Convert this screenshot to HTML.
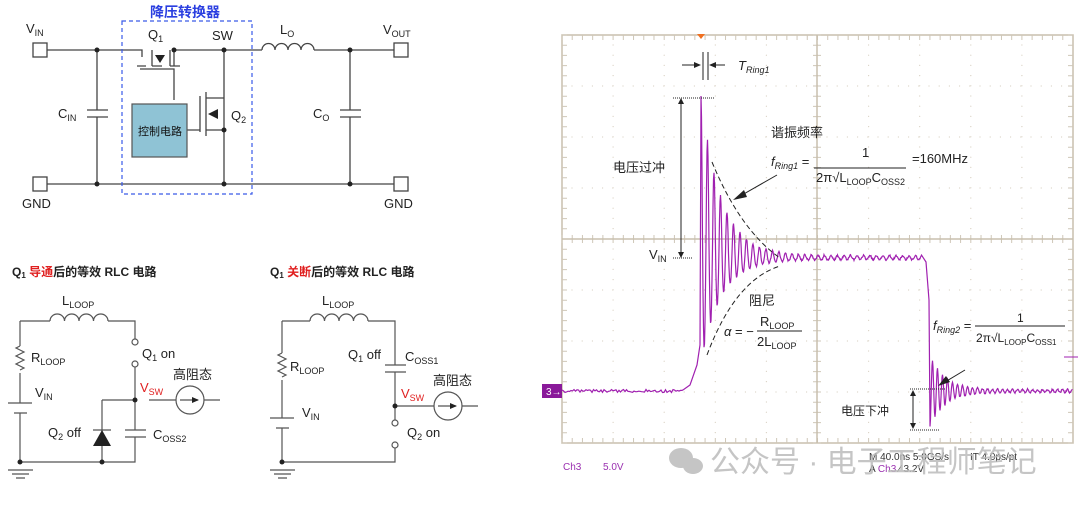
<!DOCTYPE html><html><head><meta charset="utf-8"><style>
body{margin:0;background:#fff;width:1080px;height:504px;overflow:hidden}
svg text{font-family:"Liberation Sans","Noto Sans CJK SC",sans-serif}
</style></head><body>
<svg id="s" width="1080" height="504" viewBox="0 0 1080 504" xmlns="http://www.w3.org/2000/svg" font-size="13">
<g stroke="#444" stroke-width="1.3" fill="none">
<rect x="33" y="43" width="14" height="14" fill="#fff"/><rect x="33" y="177" width="14" height="14" fill="#fff"/>
<rect x="394" y="43" width="14" height="14" fill="#fff"/><rect x="394" y="177" width="14" height="14" fill="#fff"/>
<path d="M47 50H142V57M137 66H146M140 69H174V100M152 66H162M170 66H180M174 66V50H224V50H262M314 50H394M47 184H394M97 50V110M97 117V184M87 110H108M87 117H108M350 50V110M350 117V184M340 110H361M340 117H361M224 50V98H206V92M224 98V130H206V136M206 92V136M200 96V132M200 130H187M224 130V184"/>
<path d="M262 50a6.5 6.5 0 0 1 13 0a6.5 6.5 0 0 1 13 0a6.5 6.5 0 0 1 13 0a6.5 6.5 0 0 1 13 0"/>
<path d="M152 66V50M170 66V50"/>
</g>
<polygon points="155,55 165,55 160,63" fill="#222"/><polygon points="208,114 218,109 218,119" fill="#222"/>
<rect x="122" y="21" width="130" height="173" fill="none" stroke="#3a5ae8" stroke-width="1.2" stroke-dasharray="4,3"/>
<rect x="132" y="104" width="55" height="53" fill="#8fc3d5" stroke="#555" stroke-width="1.2"/>
<g fill="#222"><circle cx="97" cy="50" r="2.5"/><circle cx="174" cy="50" r="2.5"/><circle cx="224" cy="50" r="2.5"/><circle cx="350" cy="50" r="2.5"/><circle cx="97" cy="184" r="2.5"/><circle cx="224" cy="184" r="2.5"/><circle cx="350" cy="184" r="2.5"/><circle cx="224" cy="130" r="2.5"/></g>
<text x="150" y="17" fill="#2a3ee0" font-size="14" font-weight="bold">降压转换器</text>
<text x="138" y="135" font-size="11" fill="#111">控制电路</text>
<g fill="#222"><text x="26" y="33">V<tspan font-size="9" dy="3">IN</tspan></text>
<text x="148" y="39">Q<tspan font-size="9" dy="3">1</tspan></text><text x="212" y="40">SW</text>
<text x="280" y="34">L<tspan font-size="9" dy="3">O</tspan></text><text x="383" y="34">V<tspan font-size="9" dy="3">OUT</tspan></text>
<text x="58" y="118">C<tspan font-size="9" dy="3">IN</tspan></text><text x="231" y="120">Q<tspan font-size="9" dy="3">2</tspan></text>
<text x="313" y="118">C<tspan font-size="9" dy="3">O</tspan></text>
<text x="22" y="208">GND</text><text x="384" y="208">GND</text>
<text x="12" y="276" font-weight="bold" font-size="12">Q<tspan font-size="8" dy="2">1</tspan><tspan dy="-2" fill="#e02020"> 导通</tspan>后的等效 RLC 电路</text>
<text x="270" y="276" font-weight="bold" font-size="12">Q<tspan font-size="8" dy="2">1</tspan><tspan dy="-2" fill="#e02020"> 关断</tspan>后的等效 RLC 电路</text>
<text x="62" y="305">L<tspan font-size="9" dy="3">LOOP</tspan></text><text x="322" y="305">L<tspan font-size="9" dy="3">LOOP</tspan></text>
<text x="31" y="362">R<tspan font-size="9" dy="3">LOOP</tspan></text><text x="290" y="371">R<tspan font-size="9" dy="3">LOOP</tspan></text>
<text x="35" y="397">V<tspan font-size="9" dy="3">IN</tspan></text><text x="302" y="417">V<tspan font-size="9" dy="3">IN</tspan></text>
<text x="142" y="358">Q<tspan font-size="9" dy="3">1</tspan><tspan dy="-3"> on</tspan></text>
<text x="348" y="359">Q<tspan font-size="9" dy="3">1</tspan><tspan dy="-3"> off</tspan></text>
<text x="405" y="361">C<tspan font-size="9" dy="3">OSS1</tspan></text>
<text x="153" y="439">C<tspan font-size="9" dy="3">OSS2</tspan></text>
<text x="48" y="437">Q<tspan font-size="9" dy="3">2</tspan><tspan dy="-3"> off</tspan></text>
<text x="407" y="437">Q<tspan font-size="9" dy="3">2</tspan><tspan dy="-3"> on</tspan></text>
<text x="173" y="379">高阻态</text><text x="433" y="385">高阻态</text>
<text x="140" y="392" fill="#e02020">V<tspan font-size="9" dy="3">SW</tspan></text>
<text x="401" y="398" fill="#e02020">V<tspan font-size="9" dy="3">SW</tspan></text></g>
<g stroke="#555" stroke-width="1.2" fill="none">
<path d="M20 321H50M108 321H135V339M135 367V430M135 437V462H20V452M20 321V346M20 373V403M20 413V462M102 400H135M102 400V462M149 400H176M204 400H220M125 430H146M125 437H146"/>
<path d="M50 321a7.25 7 0 0 1 14.5 0a7.25 7 0 0 1 14.5 0a7.25 7 0 0 1 14.5 0a7.25 7 0 0 1 14.5 0"/>
<path d="M20 346l-4 2l8 4l-8 4l8 4l-8 4l8 4l-4 2"/>
<path d="M8 403H32M14 413H27M8 470H33M12 474H29M16 478H25"/>
<circle cx="135" cy="342" r="3" fill="#fff"/><circle cx="135" cy="364" r="3" fill="#fff"/>
<circle cx="190" cy="400" r="14" fill="#fff"/><path d="M180 400H198"/>
<path d="M93 430H111"/>
<path d="M282 321H310M368 321H395V365M395 372V420M395 448V462H282V452M282 321V353M282 380V418M282 428V462M385 365H406M385 372H406M395 406H434M462 406H478"/>
<path d="M310 321a7.25 7 0 0 1 14.5 0a7.25 7 0 0 1 14.5 0a7.25 7 0 0 1 14.5 0a7.25 7 0 0 1 14.5 0"/>
<path d="M282 353l-4 2l8 4l-8 4l8 4l-8 4l8 4l-4 2"/>
<path d="M270 418H294M276 428H289M270 470H295M274 474H291M278 478H287"/>
<circle cx="395" cy="423" r="3" fill="#fff"/><circle cx="395" cy="445" r="3" fill="#fff"/>
<circle cx="448" cy="406" r="14" fill="#fff"/><path d="M438 406H456"/>
</g>
<g fill="#222"><polygon points="93,446 111,446 102,430"/><polygon points="192,397 199,400 192,403"/><polygon points="450,403 457,406 450,409"/>
<circle cx="135" cy="400" r="2.5"/><circle cx="20" cy="462" r="2.5"/><circle cx="102" cy="462" r="2.5"/><circle cx="395" cy="406" r="2.5"/><circle cx="282" cy="462" r="2.5"/></g>
<rect x="562" y="35" width="511" height="408" fill="none" stroke="#c8bfae" stroke-width="1.5"/>
<g id="grid" stroke="#cfc7b8" stroke-width="1"></g>
<path d="M562 239H1073M817 35V443" stroke="#c8bfae" stroke-width="1.5"/>
<polygon points="697,34 705,34 701,39" fill="#f07020"/>
<path id="wave" fill="none" stroke="#a020b0" stroke-width="1.2"/>
<path d="M712 162Q740 230 780 258M707 355Q735 280 780 266" stroke="#222" stroke-width="1" stroke-dasharray="5,3" fill="none"/>
<g stroke="#222" stroke-width="1" fill="none"><path d="M673 98H714M673 258H692M910 389H945M910 430H940" stroke-dasharray="1,1"/>
<path d="M681 102V254M913 392V427M682 65H700M712 65H725M777 175L735 199M965 370L940 385M703 52V80M708 52V80" /></g>
<g fill="#222"><polygon points="678,104 684,104 681,98"/><polygon points="678,252 684,252 681,258"/><polygon points="910,396 916,396 913,390"/><polygon points="910,423 916,423 913,429"/>
<polygon points="701,65 694,62 694,68"/><polygon points="709,65 716,62 716,68"/><polygon points="733,200 744,190 747,197"/><polygon points="938,386 946,376 950,382"/>
<text x="738" y="70" font-family="Liberation Serif" font-style="italic">T<tspan font-size="9" dy="3">Ring1</tspan></text>
<text x="613" y="172">电压过冲</text><text x="771" y="137">谐振频率</text>
<text x="649" y="259">V<tspan font-size="9" dy="3">IN</tspan></text>
<text x="749" y="305">阻尼</text><text x="841" y="415" font-size="12">电压下冲</text>
<text x="771" y="166" font-family="Liberation Serif" font-style="italic">f<tspan font-size="9" dy="3">Ring1</tspan><tspan dy="-3" font-style="normal"> =</tspan></text>
<text x="862" y="157" font-family="Liberation Serif">1</text>
<text x="816" y="182" font-family="Liberation Serif">2π√<tspan font-family="Liberation Sans">L<tspan font-size="9" dy="3">LOOP</tspan><tspan dy="-3">C</tspan><tspan font-size="9" dy="3">OSS2</tspan></tspan></text>
<text x="912" y="163">=160MHz</text>
<text x="724" y="336" font-family="Liberation Serif" font-style="italic">α<tspan font-style="normal"> = −</tspan></text>
<text x="760" y="326">R<tspan font-size="9" dy="3">LOOP</tspan></text><text x="757" y="346">2L<tspan font-size="9" dy="3">LOOP</tspan></text>
<text x="933" y="330" font-family="Liberation Serif" font-style="italic">f<tspan font-size="9" dy="3">Ring2</tspan><tspan dy="-3" font-style="normal"> =</tspan></text>
<text x="1017" y="322" font-family="Liberation Serif" font-size="12">1</text>
<text x="976" y="342" font-family="Liberation Serif" font-size="12">2π√<tspan font-family="Liberation Sans">L<tspan font-size="8" dy="3">LOOP</tspan><tspan dy="-3">C</tspan><tspan font-size="8" dy="3">OSS1</tspan></tspan></text></g>
<path d="M814 168H906M975 326H1065M757 331H802" stroke="#222"/>
<rect x="542" y="384" width="20" height="14" fill="#8a1a9a"/><text x="546" y="395" fill="#fff" font-size="10">3→</text>
<path d="M1064 357H1078" stroke="#a020b0"/>
<g font-size="10" fill="#9a30b0"><text x="563" y="470">Ch3</text><text x="603" y="470">5.0V</text></g>
<g font-size="10" fill="#333"><text x="869" y="460">M 40.0ns 5.0GS/s</text><text x="970" y="460">IT 4.0ps/pt</text><text x="869" y="472">A <tspan fill="#9a30b0">Ch3</tspan>  ∕  3.2V</text></g>
<g fill="#bbb" opacity="0.85"><ellipse cx="681" cy="458" rx="12" ry="10"/><ellipse cx="693" cy="466" rx="10" ry="8"/>
<text x="710" y="472" font-size="30">公众号 · 电子工程师笔记</text></g>
</svg>
<script>
var g=document.getElementById('grid'),h='';
for(var i=1;i<10;i++){var x=562+i*51.1;for(var y=45;y<443;y+=10.2)h+='<circle cx="'+x+'" cy="'+y+'" r="0.6" fill="#d8d0c2" stroke="none"/>';}
for(var j=1;j<8;j++){var y=35+j*51;for(var x=572;x<1073;x+=10.2)h+='<circle cx="'+x+'" cy="'+y+'" r="0.6" fill="#d8d0c2" stroke="none"/>';}
for(var x=562;x<=1073;x+=10.22){h+='<path d="M'+x+' 235V243M'+x+' 35V40M'+x+' 438V443"/>';}
for(var y=35;y<=443;y+=10.2){h+='<path d="M813 '+y+'H821M562 '+y+'H567M1068 '+y+'H1073"/>';}
g.innerHTML=h;
var p=[],r=function(){return (Math.random()-0.5)*3};
for(var x=562;x<685;x+=1.5)p.push([x,391+r()]);
p.push([690,385],[697,365],[700,345]);
for(var x=701;x<922;x+=0.5){var t=x-701,A=160*Math.exp(-t/20)+2.5,c=Math.cos(t/6.5*2*Math.PI),y=258-(c>0?A*c:0.65*A*c);p.push([x,Math.min(y,370)+r()*0.6]);}
p.push([926,262],[929,300],[930,425]);
for(var x=930;x<1073;x+=0.5){var t=x-930,A=34*Math.exp(-t/15)+1.5;p.push([x,391+A*Math.cos(t/5*2*Math.PI)+r()*0.5]);}
document.getElementById('wave').setAttribute('d','M'+p.map(function(q){return q[0].toFixed(1)+' '+q[1].toFixed(1)}).join('L'));
</script>
</body></html>
